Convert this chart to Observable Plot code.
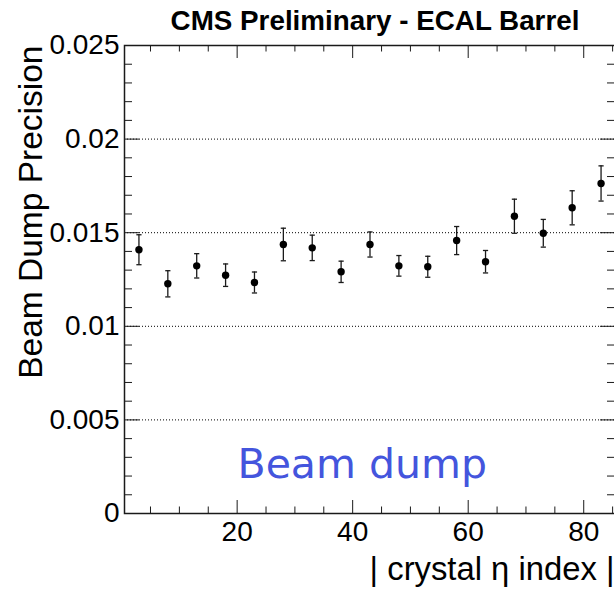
<!DOCTYPE html>
<html>
<head>
<meta charset="utf-8">
<script src="https://cdn.jsdelivr.net/npm/d3@7"></script>
<script src="https://cdn.jsdelivr.net/npm/@observablehq/plot@0.6"></script>
<style>
  html, body { margin: 0; padding: 0; background: #fff; overflow: hidden; }
</style>
</head>
<body>
<div id="chart"></div>
<script>
// ---- data ----
const etaIndex = [3, 8, 13, 18, 23, 28, 33, 38, 43, 48, 53, 58, 63, 68, 73, 78, 83];
const precision = [0.01409, 0.01227, 0.01323, 0.01273, 0.01234, 0.01437, 0.01419, 0.01291, 0.01437,
                   0.01323, 0.01318, 0.01458, 0.01345, 0.01588, 0.01497, 0.01633, 0.01763];
const precisionErr = [0.0008, 0.0007, 0.00065, 0.0006, 0.00056, 0.00087, 0.00068, 0.00057, 0.00067,
                      0.00055, 0.00056, 0.00075, 0.0006, 0.00091, 0.00074, 0.00091, 0.00094];

const xMajorTicks = [20, 40, 60, 80];
const xMinorTicks = [5, 10, 15, 25, 30, 35, 45, 50, 55, 65, 70, 75, 85];
const yMajorTicks = [0, 0.005, 0.01, 0.015, 0.02, 0.025];
const yTickLabels = ["0", "0.005", "0.01", "0.015", "0.02", "0.025"];
const yMinorTicks = [0.001, 0.002, 0.003, 0.004, 0.006, 0.007, 0.008, 0.009,
                     0.011, 0.012, 0.013, 0.014, 0.016, 0.017, 0.018, 0.019,
                     0.021, 0.022, 0.023, 0.024];
const gridLines = [0.005, 0.01, 0.015, 0.02];

const titleText = "CMS Preliminary - ECAL Barrel";
const yLabelText = "Beam Dump Precision";
const xLabelText = "| crystal \u03b7 index |";
const annotationText = "Beam dump";

const points = etaIndex.map((x, i) => ({x, v: precision[i], e: precisionErr[i]}));

// layout (pixels)
const W = 614, H = 589, mL = 124, mR = -1, mT = 45, mB = 76;
const frameW = W - mL - mR, frameH = H - mT - mB;

const capSymbol = {draw(ctx) { ctx.moveTo(-2.6, 0); ctx.lineTo(2.6, 0); }};

const ink = "#1a1a1a";
const tk = {stroke: ink, strokeWidth: 1};

const chart = Plot.plot({
  width: W,
  height: H,
  marginLeft: mL,
  marginRight: mR,
  marginTop: mT,
  marginBottom: mB,
  style: {fontFamily: "'Liberation Sans', Arial, sans-serif", background: "#fff", color: "#000"},
  x: {domain: [0.5, 85.5]},
  y: {domain: [0, 0.025]},
  marks: [
    // dotted grid
    Plot.ruleY(gridLines, {stroke: "#000", strokeWidth: 1, strokeDasharray: "1,2"}),
    // inward ticks (ROOT style) on all four sides
    Plot.ruleX(xMajorTicks, {...tk, insetTop: frameH - 13}),
    Plot.ruleX(xMinorTicks, {...tk, insetTop: frameH - 6.5}),
    Plot.ruleX(xMajorTicks, {...tk, insetBottom: frameH - 13}),
    Plot.ruleX(xMinorTicks, {...tk, insetBottom: frameH - 6.5}),
    Plot.ruleY(yMajorTicks, {...tk, insetRight: frameW - 15}),
    Plot.ruleY(yMinorTicks, {...tk, insetRight: frameW - 8}),
    Plot.ruleY(yMajorTicks, {...tk, insetLeft: frameW - 15}),
    Plot.ruleY(yMinorTicks, {...tk, insetLeft: frameW - 8}),
    // tick labels
    Plot.axisX(xMajorTicks, {anchor: "bottom", tickSize: 0, tickPadding: 8, fontSize: 28, label: null, tickFormat: d => String(d)}),
    Plot.axisY(yMajorTicks, {anchor: "left", tickSize: 0, tickPadding: 5, fontSize: 28, label: null, tickFormat: (d, i) => yTickLabels[i]}),
    Plot.frame({stroke: ink, strokeWidth: 1.5}),
    // error bars
    Plot.ruleX(points, {x: "x", y1: d => d.v - d.e, y2: d => d.v + d.e, stroke: ink, strokeWidth: 1.3}),
    Plot.dot(points, {x: "x", y: d => d.v + d.e, symbol: capSymbol, fill: "none", stroke: ink, strokeWidth: 1.3}),
    Plot.dot(points, {x: "x", y: d => d.v - d.e, symbol: capSymbol, fill: "none", stroke: ink, strokeWidth: 1.3}),
    // markers
    Plot.dot(points, {x: "x", y: "v", r: 3.7, fill: "#000", stroke: "none"}),
    // texts
    Plot.text([titleText], {frameAnchor: "top", lineAnchor: "bottom", dx: 5, dy: -16, fontSize: 27.8, fontWeight: "bold", fill: "#000"}),
    Plot.text([yLabelText], {frameAnchor: "top-left", rotate: -90, textAnchor: "end", lineAnchor: "bottom", dx: -83, dy: 0, fontSize: 33.5, fill: "#000"}),
    Plot.text([xLabelText], {frameAnchor: "bottom-right", textAnchor: "end", lineAnchor: "bottom", dx: -1, dy: 66, fontSize: 32.8, fill: "#000"}),
    Plot.text([annotationText], {frameAnchor: "bottom-left", textAnchor: "start", lineAnchor: "bottom", dx: 113, dy: -36, fontSize: 41, fontFamily: "'DejaVu Sans', sans-serif", fill: "#4455dd"})
  ]
});

document.getElementById("chart").appendChild(chart);
</script>
</body>
</html>
